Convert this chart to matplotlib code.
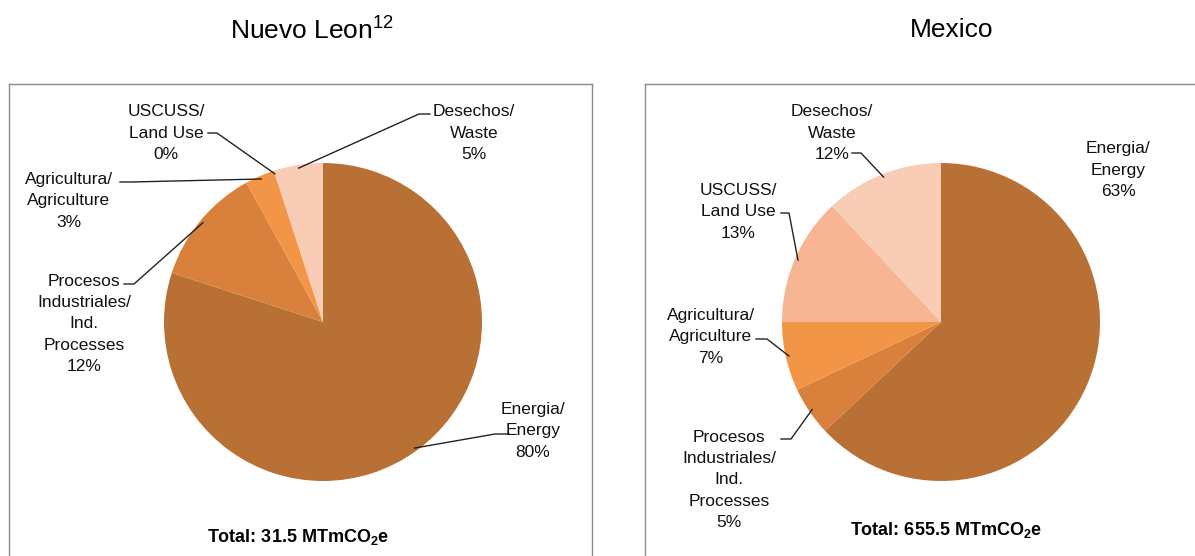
import numpy as np
import matplotlib
matplotlib.use("Agg")
import matplotlib.pyplot as plt

plt.rcParams['font.family'] = ['Liberation Sans', 'DejaVu Sans']
plt.rcParams['mathtext.fontset'] = 'custom'
plt.rcParams['mathtext.rm'] = 'Liberation Sans'
plt.rcParams['mathtext.bf'] = 'Liberation Sans:bold'

# data
categories = ['Energia/\nEnergy', 'Procesos\nIndustriales/\nInd.\nProcesses',
              'Agricultura/\nAgriculture', 'USCUSS/\nLand Use', 'Desechos/\nWaste']
nl_values = [80, 12, 3, 0, 5]
mx_values = [63, 5, 7, 13, 12]
colors = ['#b87034', '#d9813c', '#f39546', '#f7b593', '#f9ccb5']
titles = ['Nuevo Leon$^{12}$', 'Mexico']
totals = ['Total: 31.5 MTmCO$_\\mathbf{2}$e', 'Total: 655.5 MTmCO$_\\mathbf{2}$e']

W, H = 1195, 556
R = 159  # pie radius in pixels

fig = plt.figure(figsize=(W / 100, H / 100), dpi=100)

# layout in pixels: box (x0, x1, y0, y1), centre, label centres, leader points
panels = [
    dict(values=nl_values, box=(9, 592, 84, 600), centre=(323, 322),
         labels=[(533, 431), (84, 324), (69, 201), (166, 133), (474, 133)],
         leaders=[[(509, 434), (495, 434)], [(124, 284), (134, 284)],
                  [(120, 182), (131, 182)], [(208, 133), (217, 133)],
                  [(430, 114), (419, 114)]],
         title_xy=(312, 30), total_xy=(298, 537)),
    dict(values=mx_values, box=(645, 1210, 84, 600), centre=(941, 322),
         labels=[(1118, 170), (729, 480), (711, 337), (738, 212), (832, 133)],
         leaders=[None, [(781, 439), (791, 439)], [(756, 339), (767, 339)],
                  [(781, 213), (789, 213)], [(852, 153), (861, 153)]],
         title_xy=(952, 30), total_xy=(946, 530)),
]

for k, p in enumerate(panels):
    x0, x1, y0, y1 = p['box']
    cx, cy = p['centre']
    ax = fig.add_axes([x0 / W, (H - y1) / H, (x1 - x0) / W, (y1 - y0) / H])

    def to_data(pt):
        return ((pt[0] - cx) / R, (cy - pt[1]) / R)

    wedges, _ = ax.pie(p['values'], colors=colors, startangle=90, counterclock=False,
                       radius=1, center=(0, 0), frame=True,
                       wedgeprops=dict(edgecolor='none'))
    ax.set_xlim((x0 - cx) / R, (x1 - cx) / R)
    ax.set_ylim(-(y1 - cy) / R, (cy - y0) / R)
    ax.set_aspect('auto')
    ax.set_xticks([])
    ax.set_yticks([])
    for s in ax.spines.values():
        s.set_color('#8c8c8c')
        s.set_linewidth(1.0)

    for i, w in enumerate(wedges):
        tx, ty = to_data(p['labels'][i])
        ax.text(tx, ty, f"{categories[i]}\n{p['values'][i]}%", ha='center', va='center',
                fontsize=12.5, linespacing=1.52, color='#111111')
        if p['leaders'][i] is not None:
            mid = np.deg2rad((w.theta1 + w.theta2) / 2)
            pts = [to_data(q) for q in p['leaders'][i]]
            pts.append((0.98 * np.cos(mid), 0.98 * np.sin(mid)))
            xs, ys = zip(*pts)
            ax.plot(xs, ys, color='#222222', lw=1.0)

    fig.text(p['title_xy'][0] / W, 1 - p['title_xy'][1] / H, titles[k],
             ha='center', va='center', fontsize=19)
    fig.text(p['total_xy'][0] / W, 1 - p['total_xy'][1] / H, totals[k],
             ha='center', va='center', fontsize=13, fontweight='bold')

fig.savefig('out.png', dpi=100)
